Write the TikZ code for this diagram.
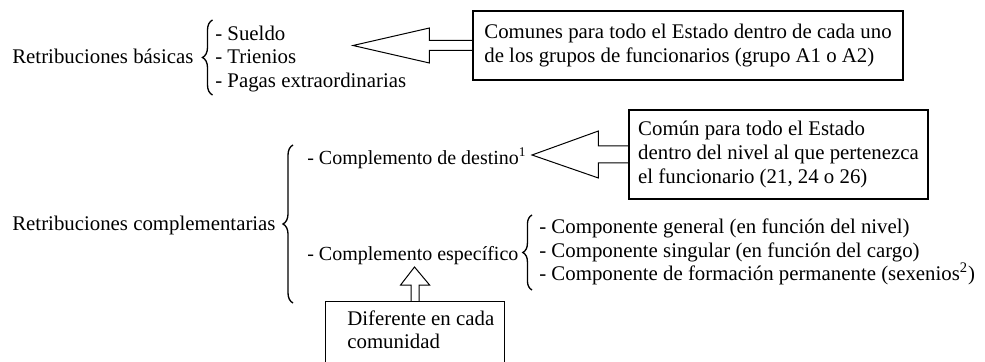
\documentclass[tikz,border=0pt]{standalone}
\usepackage{fontspec}
\setmainfont{Liberation Serif}
\usetikzlibrary{calc, decorations.pathreplacing}

\tikzset{
    txt/.style={anchor=base west, inner sep=0pt},
    narrow/.style={txt, font=\fontsize{12pt}{14pt}\selectfont},
    box/.style={draw, line width=0.7pt, align=left, inner sep=0pt},
    blockarr/.style={draw, line width=0.6pt, line join=miter},
    curly/.style={decorate, decoration={brace, amplitude=#1}, line width=0.8pt},
}

\begin{document}
\begin{tikzpicture}[x=0.6pt, y=-0.6pt, font=\fontsize{12.5pt}{14.2pt}\selectfont]
    \useasboundingbox (0,0) rectangle (985,362);

    % basicas
    \node[txt] at (12, 64) (bas) {Retribuciones básicas};
    \draw[curly=6pt] (212.5, 95) -- (212.5, 20);
    \node[txt] at (215, 40.5) (sueldo) {- Sueldo};
    \node[txt] at (215, 64) (trien) {- Trienios};
    \node[txt] at (215, 87.5) (pagas) {- Pagas extraordinarias};

    \node[box, minimum width=258pt, minimum height=41.4pt] at (688, 45.5) (boxA)
        {Comunes para todo el Estado dentro de cada uno\\de los grupos de funcionarios (grupo A1 o A2)};
    \coordinate (tipA) at (353, 45.5);
    \draw[blockarr] ($(boxA.west)+(0,-5)$) -- ++(-43,0) -- ++(0,-12.5) -- (tipA)
        -- ($(boxA.west)+(-43,17.5)$) -- ++(0,-12.5) -- ($(boxA.west)+(0,5)$);

    % complementarias
    \node[txt] at (12, 230) (comp) {Retribuciones complementarias};
    \draw[curly=6pt] (293, 303) -- (293, 145);
    \node[narrow] at (307, 164) (dest) {- Complemento de destino\textsuperscript{1}};
    \node[narrow] at (307, 260) (espec) {- Complemento específico};

    \node[box, minimum width=179.4pt, minimum height=53.4pt] at (778.5, 154.5) (boxB)
        {Común para todo el Estado\\dentro del nivel al que pertenezca\\el funcionario (21, 24 o 26)};
    \coordinate (tipB) at (532, 155);
    \draw[blockarr] ($(boxB.west)+(0,-8.5)$) -- ++(-30,0) -- ++(0,-15) -- (tipB)
        -- ($(boxB.west)+(-30,23.5)$) -- ++(0,-15) -- ($(boxB.west)+(0,8.5)$);

    \draw[curly=5.5pt] (532, 290) -- (532, 215);
    \node[txt] at (539, 233) (gen) {- Componente general (en función del nivel)};
    \node[txt] at (539, 257) (sing) {- Componente singular (en función del cargo)};
    \node[txt] at (539, 280) (form) {- Componente de formación permanente (sexenios\textsuperscript{2})};

    \node[draw, line width=0.7pt, minimum width=107.4pt, minimum height=45pt, anchor=north west] at (325, 301) (boxC) {};
    \node[align=left, inner sep=0pt, anchor=north west] at (347, 310) (dif) {Diferente en cada\\comunidad};
    \coordinate (tipC) at (414.5, 267);
    \draw[blockarr] ($(boxC.north)+(-4,0)$) -- ++(0,-16) -- ++(-10.5,0) -- (tipC)
        -- ($(boxC.north)+(14.5,-16)$) -- ++(-10.5,0) -- ($(boxC.north)+(4,0)$);
\end{tikzpicture}
\end{document}
